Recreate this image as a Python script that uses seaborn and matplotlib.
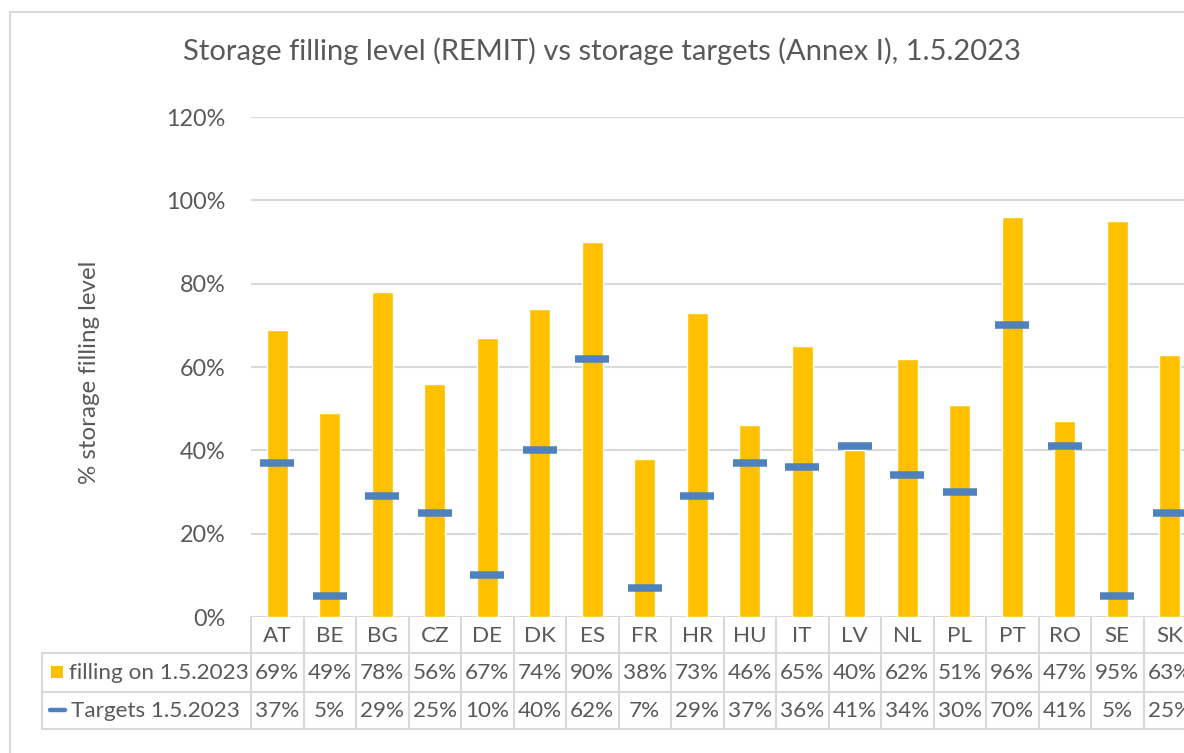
import matplotlib
matplotlib.use("Agg")
import matplotlib.pyplot as plt
import seaborn as sns
import pandas as pd
from matplotlib.patches import Rectangle
from matplotlib.lines import Line2D

countries = ["AT", "BE", "BG", "CZ", "DE", "DK", "ES", "FR", "HR", "HU",
             "IT", "LV", "NL", "PL", "PT", "RO", "SE", "SK"]
filling = [69, 49, 78, 56, 67, 74, 90, 38, 73, 46, 65, 40, 62, 51, 96, 47, 95, 63]
targets = [37, 5, 29, 25, 10, 40, 62, 7, 29, 37, 36, 41, 34, 30, 70, 41, 5, 25]
series_names = ["filling on 1.5.2023", "Targets 1.5.2023"]
yticks = [0, 0.2, 0.4, 0.6, 0.8, 1.0, 1.2]
title = "Storage filling level (REMIT) vs storage targets (Annex I), 1.5.2023"
ylabel = "% storage filling level"

YELLOW = "#FFC000"
BLUE = "#4F81BD"
GRID = "#D9D9D9"
TXT = "#595959"

sns.set_theme(style="white")
plt.rcParams["font.family"] = ["Lato", "DejaVu Sans"]

W, H = 1184, 753
fig = plt.figure(figsize=(W / 100, H / 100), dpi=100)

def fx(px):
    return px / W

def fy(py):
    return 1 - py / H

# axes: left at 251px, each column 52.5px, 0% at y=617, 120% at y=117
ax_left, col_w = 251, 52.5
ax_right = ax_left + col_w * len(countries)
ax = fig.add_axes([fx(ax_left), fy(617), fx(ax_right) - fx(ax_left), (617 - 117) / H])

df = pd.DataFrame({"country": countries,
                   "filling": [v / 100 for v in filling],
                   "target": [v / 100 for v in targets]})

sns.barplot(data=df, x="country", y="filling", color=YELLOW, width=0.4,
            saturation=1, ax=ax, zorder=2)
ax.hlines(df["target"], [i - 0.325 for i in range(len(countries))],
          [i + 0.325 for i in range(len(countries))], colors=BLUE,
          linewidth=5.4, zorder=3)

ax.set_xlim(-0.5, len(countries) - 0.5)
ax.set_ylim(0, 1.2)
ax.set_yticks(yticks)
ax.set_yticklabels([f"{int(round(t * 100))}%" for t in yticks], color=TXT, fontsize=16.8)
ax.tick_params(axis="y", length=0, pad=18.5)
ax.set_xticks([])
ax.set_xlabel("")
ax.set_ylabel("")
for t in yticks:
    ax.axhline(t, color=GRID, linewidth=1.5, zorder=1)
for s in ax.spines.values():
    s.set_visible(False)

# outer chart border
fig.patches.append(Rectangle((fx(9.5), fy(800)), fx(1300), fy(12) - fy(800),
                             transform=fig.transFigure, fill=False,
                             edgecolor=GRID, linewidth=1.5))

fig.text(fx(602), fy(51), title, ha="center", va="center", fontsize=21, color=TXT)
fig.text(fx(90), fy(372), ylabel, ha="center", va="center", rotation=90,
         fontsize=17.4, color=TXT)

# data table
fig.canvas.draw()
def col_x(i):
    return ax.transData.transform((i, 0))[0]

row_y = [617, 653, 692, 729]
table_left = 42
lines = []
for yy in row_y[1:]:
    lines.append(((table_left, yy), (ax_right + 50, yy)))
lines.append(((table_left, 653), (table_left, 729)))
for i in range(len(countries) + 1):
    xb = col_x(i - 0.5)
    lines.append(((xb, 617), (xb, 729)))
for (x0, y0), (x1, y1) in lines:
    fig.lines.append(Line2D([fx(x0), fx(x1)], [fy(y0), fy(y1)],
                            transform=fig.transFigure, color=GRID, linewidth=1.5))

for i, c in enumerate(countries):
    xc = col_x(i)
    fig.text(fx(xc), fy(636), c, ha="center", va="center", fontsize=16.2, color=TXT)
    fig.text(fx(xc), fy(673), f"{filling[i]}%", ha="center", va="center",
             fontsize=16.2, color=TXT)
    fig.text(fx(xc), fy(711), f"{targets[i]}%", ha="center", va="center",
             fontsize=16.2, color=TXT)

fig.patches.append(Rectangle((fx(51), fy(678)), fx(12), fy(666) - fy(678),
                             transform=fig.transFigure, facecolor=YELLOW,
                             edgecolor="none"))
fig.lines.append(Line2D([fx(50), fx(65)], [fy(710), fy(710)],
                        transform=fig.transFigure, color=BLUE, linewidth=3.2))
fig.text(fx(69), fy(673), series_names[0], ha="left", va="center", fontsize=16.2, color=TXT)
fig.text(fx(71), fy(711), series_names[1], ha="left", va="center", fontsize=16.2, color=TXT)

fig.savefig("out.png", dpi=100)
